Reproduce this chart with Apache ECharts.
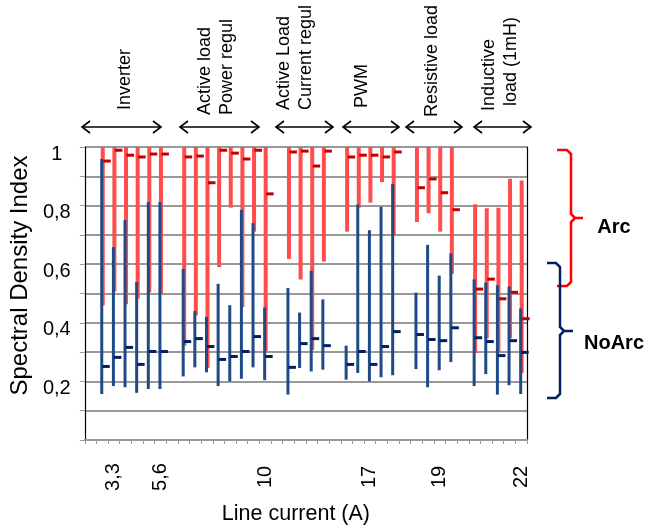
<!DOCTYPE html>
<html><head><meta charset="utf-8">
<script src="https://cdn.jsdelivr.net/npm/echarts@6/dist/echarts.min.js"></script>
<style>html,body{margin:0;padding:0;background:#fff}#c{width:647px;height:530px}</style>
</head><body><div id="c"></div>
<script>
// 38 category slots (blank slots separate the load groups)
const categories = ['', '', '3,3', '', '', '', '5,6', '', '', '', '', '', '', '', '', '10', '', '', '', '', '', '', '', '', '17', '', '', '', '', '', '19', '', '', '', '', '', '', '22'];

// Arc series (red): low, high, mean
const arcLow  = [null, 0.46, 0.507, 0.463, 0.483, 0.503, 0.499, null, 0.322, 0.426, 0.246, 0.59, 0.793, 0.454, 0.711, 0.302, null, 0.618, 0.548, 0.307, 0.609, null, 0.711, 0.793, 0.81, 0.88, 0.697, null, 0.744, 0.774, 0.711, 0.567, null, 0.296, 0.347, 0.296, 0.347, 0.229];
const arcHigh = [null, 1, 1, 1, 1, 1, 1, null, 1, 1, 1, 1, 1, 1, 1, 1, null, 1, 1, 1, 1, null, 1, 1, 1, 1, 1, null, 1, 1, 1, 1, null, 0.805, 0.791, 0.793, 0.892, 0.886];
const arcMean = [null, 0.952, 0.989, 0.972, 0.966, 0.976, 0.976, null, 0.966, 0.969, 0.878, 0.989, 0.979, 0.959, 0.989, 0.84, null, 0.983, 0.986, 0.935, 0.986, null, 0.966, 0.972, 0.972, 0.966, 0.983, null, 0.861, 0.891, 0.844, 0.786, null, 0.515, 0.549, 0.482, 0.504, 0.414];

// NoArc series (blue): low, high, mean
const noArcLow  = [null, 0.157, 0.184, 0.18, 0.161, 0.174, 0.174, null, 0.217, 0.248, 0.231, 0.184, 0.2, 0.209, 0.248, 0.204, null, 0.155, 0.246, 0.234, 0.24, null, 0.206, 0.229, 0.2, 0.214, 0.221, null, 0.242, 0.18, 0.238, 0.266, null, 0.184, 0.225, 0.155, 0.187, 0.157];
const noArcHigh = [null, 0.959, 0.658, 0.751, 0.539, 0.812, 0.812, null, 0.584, 0.44, 0.42, 0.533, 0.46, 0.785, 0.74, 0.452, null, 0.519, 0.435, 0.578, 0.48, null, 0.322, 0.804, 0.716, 0.796, 0.874, null, 0.503, 0.666, 0.561, 0.637, null, 0.548, 0.537, 0.528, 0.524, 0.449];
const noArcMean = [null, 0.251, 0.282, 0.316, 0.258, 0.302, 0.302, null, 0.336, 0.346, 0.319, 0.275, 0.285, 0.302, 0.353, 0.285, null, 0.248, 0.329, 0.346, 0.322, null, 0.258, 0.302, 0.258, 0.319, 0.37, null, 0.36, 0.343, 0.339, 0.383, null, 0.349, 0.336, 0.288, 0.339, 0.299];

// Y tick labels
const yTickValues = [1, 0.8, 0.6, 0.4, 0.2];
const yTickLabels = ['1', '0,8', '0,6', '0,4', '0,2'];

// Group annotations
const groupNames = ['Inverter', 'Active load\nPower regul', 'Active Load\nCurrent regul', 'PWM', 'Resistive load', 'Inductive\n load (1mH)'];

const FONT = 'Liberation Sans, Arial, sans-serif';

function rows(lo, hi, mn) {
  const out = [];
  for (let i = 0; i < categories.length; i++) {
    if (hi[i] != null) out.push([i, lo[i], hi[i], mn[i]]);
  }
  return out;
}

function makeRender(barW, barDx, markL, markR, barColor, markColor) {
  return function (params, api) {
    const i = api.value(0);
    const lo = api.coord([i, api.value(1)]);
    const hi = api.coord([i, api.value(2)]);
    const mn = api.coord([i, api.value(3)]);
    const cx = lo[0];
    return {
      type: 'group',
      children: [
        { type: 'rect', shape: { x: cx + barDx - barW / 2, y: hi[1], width: barW, height: lo[1] - hi[1] }, style: { fill: barColor } },
        { type: 'rect', z2: 5, shape: { x: cx + markL, y: mn[1] - 1.5, width: markR - markL, height: 3 }, style: { fill: markColor } }
      ]
    };
  };
}

function arrow(x1, x2, y) {
  const st = { stroke: '#000', lineWidth: 1.6, fill: null };
  return [
    { type: 'polyline', shape: { points: [[x1, y], [x2, y]] }, style: st },
    { type: 'polyline', shape: { points: [[x1 + 8, y - 6], [x1, y], [x1 + 8, y + 6]] }, style: st },
    { type: 'polyline', shape: { points: [[x2 - 8, y - 6], [x2, y], [x2 - 8, y + 6]] }, style: st }
  ];
}

function vtext(txt, x, y) {
  return {
    type: 'text', x: x, y: y, rotation: Math.PI / 2,
    style: { text: txt, font: '18px ' + FONT, fill: '#000', align: 'left', verticalAlign: 'middle', lineHeight: 22 }
  };
}

const arrowSpans = [[82, 161], [180, 259], [276, 333], [343, 399], [406, 462], [474, 531]];
const textPos = [[125, 110], [216, 115], [295, 110], [362, 108], [432, 117], [500, 111]];

const graphics = [];
arrowSpans.forEach(s => graphics.push(...arrow(s[0], s[1], 127)));
groupNames.forEach((t, k) => graphics.push(vtext(t, textPos[k][0], textPos[k][1])));
graphics.push({ type: 'polyline', shape: { points: [[557, 150], [567, 150], [571, 154], [571, 214], [575, 218], [583, 218], [575, 218], [571, 222], [571, 282], [567, 286], [557, 286]] }, style: { stroke: '#ff0000', lineWidth: 2.5, fill: null } });
graphics.push({ type: 'polyline', shape: { points: [[547, 263], [556, 263], [560, 267], [560, 327], [564, 331], [573, 331], [564, 331], [560, 335], [560, 394], [556, 398], [547, 398]] }, style: { stroke: '#002060', lineWidth: 2.5, fill: null } });
graphics.push({ type: 'text', x: 614, y: 227, style: { text: 'Arc', font: 'bold 20px ' + FONT, fill: '#000', align: 'center', verticalAlign: 'middle' } });
graphics.push({ type: 'text', x: 614, y: 343, style: { text: 'NoArc', font: 'bold 20px ' + FONT, fill: '#000', align: 'center', verticalAlign: 'middle' } });

const chart = echarts.init(document.getElementById('c'), null, { renderer: 'canvas' });
chart.setOption({
  animation: false,
  backgroundColor: '#fff',
  grid: { left: 78, right: 120, top: 147, bottom: 88, containLabel: false },
  xAxis: {
    type: 'category',
    data: categories,
    boundaryGap: true,
    name: 'Line current (A)',
    nameLocation: 'middle',
    nameGap: 63,
    nameTextStyle: { fontFamily: FONT, fontSize: 21.5, color: '#000', padding: [0, 20, 0, 0] },
    axisLine: { lineStyle: { color: '#999', width: 2 } },
    axisTick: { show: true, interval: 0, length: 4, lineStyle: { color: '#999' } },
    axisLabel: { interval: 0, rotate: 90, align: 'center', verticalAlign: 'middle', margin: 37, fontFamily: FONT, fontSize: 20, color: '#000' },
    splitLine: { show: false }
  },
  yAxis: [{
    type: 'value', min: 0, max: 1, interval: 0.1,
    name: 'Spectral Density Index',
    nameLocation: 'middle',
    nameGap: 50,
    nameTextStyle: { fontFamily: FONT, fontSize: 24, color: '#000', padding: [0, 0, 0, 36] },
    axisLine: { show: true, lineStyle: { color: '#000', width: 1.2 } },
    axisTick: { show: true, length: 5, lineStyle: { color: '#999' } },
    splitLine: { show: true, lineStyle: { color: '#999', width: 2 } },
    axisLabel: {
      margin: 28, align: 'center', verticalAlign: 'top', lineHeight: 14,
      fontFamily: FONT, fontSize: 20, color: '#000',
      formatter: v => { const k = yTickValues.findIndex(t => Math.abs(t - v) < 1e-6); return k >= 0 ? yTickLabels[k] : ''; }
    }
  }, {
    type: 'value', min: 0, max: 1, position: 'right',
    axisLine: { show: true, lineStyle: { color: '#000', width: 1.2 } },
    axisTick: { show: false }, axisLabel: { show: false }, splitLine: { show: false }
  }],
  series: [
    { type: 'custom', name: 'Arc', z: 2, renderItem: makeRender(4, 0.5, 1, 8.5, '#ff4d4d', '#c00000'), encode: { x: 0, y: [1, 2, 3] }, data: rows(arcLow, arcHigh, arcMean) },
    { type: 'custom', name: 'NoArc', z: 3, renderItem: makeRender(3, -0.5, 0, 7.5, '#1f4a87', '#002060'), encode: { x: 0, y: [1, 2, 3] }, data: rows(noArcLow, noArcHigh, noArcMean) }
  ],
  graphic: graphics
});
</script></body></html>
